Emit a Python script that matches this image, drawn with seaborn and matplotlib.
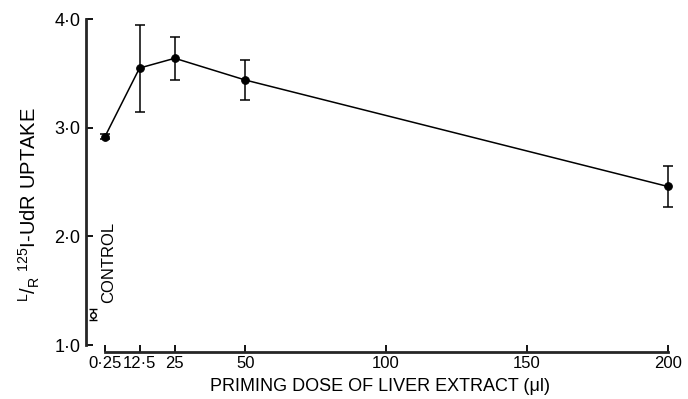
import matplotlib
matplotlib.use("Agg")
import matplotlib.pyplot as plt
import seaborn as sns
import pandas as pd

dose = [0.25, 12.5, 25, 50, 200]
uptake = [2.92, 3.55, 3.64, 3.44, 2.46]
err = [0.02, 0.40, 0.20, 0.18, 0.19]
control_x = [-4.0]
control_y = [1.28]
control_err = [0.05]
xticks = [0.25, 12.5, 25, 50, 100, 150, 200]
xticklabels = ["0·25", "12·5", "25", "50", "100", "150", "200"]
yticks = [1.0, 2.0, 3.0, 4.0]
yticklabels = ["1·0", "2·0", "3·0", "4·0"]

sns.set_style("ticks")
plt.rcParams['font.family'] = ['Liberation Sans', 'DejaVu Sans']
plt.rcParams['mathtext.fontset'] = 'custom'
plt.rcParams['mathtext.rm'] = 'Liberation Sans'
plt.rcParams['text.color'] = 'black'
plt.rcParams['axes.labelcolor'] = 'black'

fig = plt.figure(figsize=(6.88, 3.99), dpi=100)
ax = fig.add_axes([0.125, 0.135, 0.856, 0.817])

df = pd.DataFrame({"dose": dose, "uptake": uptake})
sns.lineplot(data=df, x="dose", y="uptake", ax=ax, color="black", lw=1.1,
             marker="o", markersize=5.5, markeredgecolor="black")
ax.errorbar(dose, uptake, yerr=err, fmt="none", ecolor="black", elinewidth=1.1,
            capsize=3.5, capthick=1.1)
ax.errorbar(control_x, control_y, yerr=control_err, fmt="o", mfc="white",
            mec="black", ms=4, ecolor="black", elinewidth=1.0, capsize=3, capthick=1.0)
ax.text(-1.2, 1.76, "CONTROL", rotation=90, ha="left", va="center", fontsize=12)

ax.set_xlim(-6.5, 202.5)
ax.set_ylim(1.0, 4.0)
ax.set_xticks(xticks)
ax.set_xticklabels(xticklabels)
ax.set_yticks(yticks)
ax.set_yticklabels(yticklabels)
ax.tick_params(direction="in", length=5, width=1.3, colors="black")
ax.tick_params(axis="y", pad=4, labelsize=13)
ax.tick_params(axis="x", pad=3, labelsize=12)

for s in ["top", "right"]:
    ax.spines[s].set_visible(False)
ax.spines["left"].set_bounds(1.0, 4.0)
ax.spines["left"].set_linewidth(2.0)
ax.spines["bottom"].set_position(("outward", 5))
ax.spines["bottom"].set_bounds(0.25, 200)
ax.spines["bottom"].set_linewidth(2.0)

ax.set_xlabel("PRIMING DOSE OF LIVER EXTRACT (μl)", fontsize=13, labelpad=5)
ax.set_ylabel(r"$^{\rm L}/_{\rm R}$ $^{125}$I-UdR UPTAKE", fontsize=14.5)
ax.yaxis.set_label_coords(-0.075, 0.43)

fig.savefig("out.png", dpi=100)
